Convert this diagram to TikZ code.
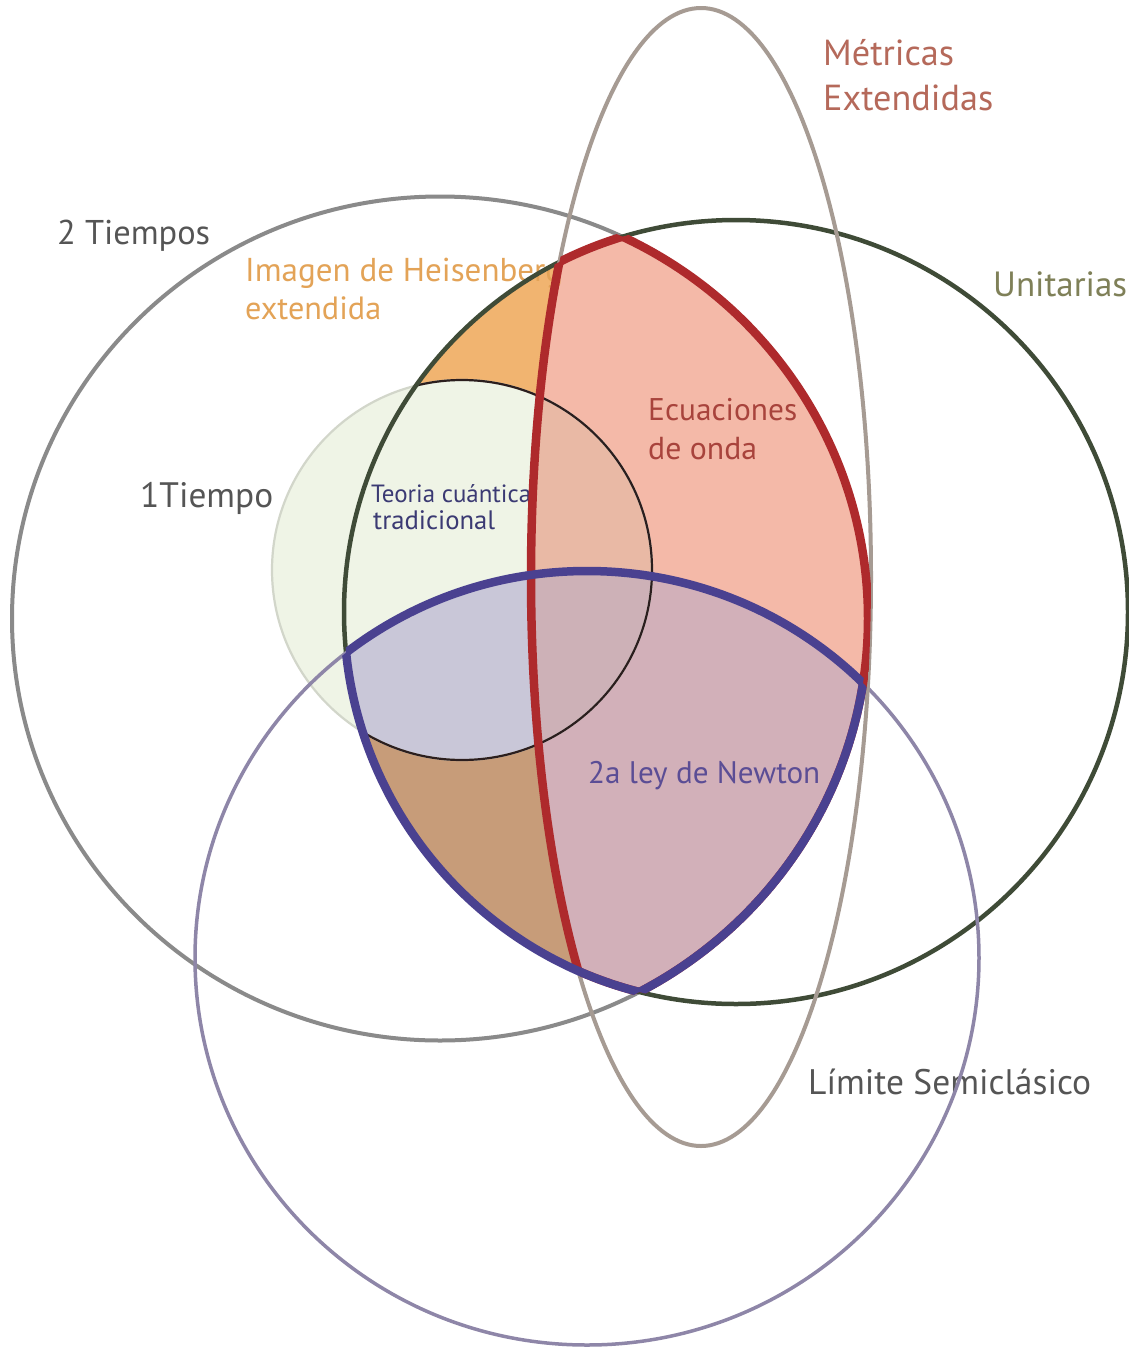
\documentclass[tikz,border=0pt]{standalone}
\usepackage{fontspec}
\setmainfont{PT Sans}
\usepackage{graphicx}
\definecolor{cPale}{HTML}{EFF4E6}
\definecolor{cOrange}{HTML}{F1B470}
\definecolor{cSalmon}{HTML}{F4B9A8}
\definecolor{cSalmonIn}{HTML}{E9B9A5}
\definecolor{cBrown}{HTML}{C79C79}
\definecolor{cLav}{HTML}{C9C7D8}
\definecolor{cMauve}{HTML}{D2B0B9}
\definecolor{cMauveIn}{HTML}{CDB1B7}
\definecolor{lTT}{HTML}{8A8A8A}
\definecolor{lU}{HTML}{3F4B37}
\definecolor{lS}{HTML}{8E86A8}
\definecolor{lE}{HTML}{A69B93}
\definecolor{lPale}{HTML}{D2D6CA}
\definecolor{lBlack}{HTML}{2B1E1E}
\definecolor{lRed}{HTML}{AE2A2C}
\definecolor{lBlue}{HTML}{4A4190}
\definecolor{tMet}{HTML}{B5695A}
\definecolor{tHeis}{HTML}{E3A357}
\definecolor{tUni}{HTML}{7F8058}
\definecolor{tEcu}{HTML}{A8433C}
\definecolor{tNew}{HTML}{5B4D95}
\definecolor{tTeo}{HTML}{3B3A73}
\definecolor{tGray}{HTML}{555555}
\def\pTT{(440,618.5) ellipse (428pt and 422pt)}
\def\pU{(736,612) circle (392pt)}
\def\pS{(587,958) ellipse (392pt and 387pt)}
\def\pOT{(462,570) circle (190pt)}
\def\pE{(701,577) ellipse (170pt and 569pt)}
\newcommand{\lab}[2]{\resizebox{#1pt}{!}{#2}}
\begin{document}
\begin{tikzpicture}[x=1pt,y=-1pt,
  lbl/.style={anchor=base west, inner sep=0pt, font=\fontsize{34}{40}\selectfont},
  smlbl/.style={anchor=base west, inner sep=0pt, font=\fontsize{22}{26}\selectfont}]
\useasboundingbox (0,0) rectangle (1128,1347);
\fill[white] (0,0) rectangle (1128,1347);
% fills
\fill[cPale] \pOT;
\begin{scope}
  \clip \pTT; \clip \pU;
  \fill[cOrange] \pU;
  \fill[cPale] \pOT;
  \begin{scope}
    \clip \pE;
    \fill[cSalmon] \pE;
    \fill[cSalmonIn] \pOT;
  \end{scope}
  \begin{scope}
    \clip \pS;
    \fill[cBrown] \pS;
    \fill[cLav] \pOT;
    \begin{scope}
      \clip \pE;
      \fill[cMauve] \pE;
      \fill[cMauveIn] \pOT;
    \end{scope}
  \end{scope}
\end{scope}
% texts
\node[lbl, text=tMet] (met1) at (823,65) {\lab{131}{Métricas}};
\node[lbl, text=tMet] (met2) at (823,110) {\lab{170}{Extendidas}};
\node[lbl, text=tGray] (tt) at (57,244) {\lab{153}{2 Tiempos}};
\node[lbl, text=tHeis] (heis1) at (245,281) {\lab{318}{Imagen de Heisenberg}};
\node[lbl, text=tHeis] (heis2) at (245,319) {\lab{136}{extendida}};
\node[lbl, text=tUni] (uni) at (993,296) {\lab{134}{Unitarias}};
\node[lbl, text=tEcu] (ecu1) at (648,420) {\lab{149}{Ecuaciones}};
\node[lbl, text=tEcu] (ecu2) at (648,459) {\lab{109}{de onda}};
\node[lbl, text=tGray] (ot) at (140,507) {\lab{133}{1Tiempo}};
\node[smlbl, text=tTeo] (teo1) at (371,502) {\lab{160}{Teoria cuántica}};
\node[smlbl, text=tTeo] (teo2) at (373,529) {\lab{122}{tradicional}};
\node[lbl, text=tNew] (new) at (588,783) {\lab{232}{2a ley de Newton}};
\node[lbl, text=tGray] (lim) at (808,1094) {\lab{283}{Límite Semiclásico}};
% outlines
\draw[lPale, line width=2.2pt] \pOT;
\begin{scope}
  \clip \pU;
  \draw[lBlack, line width=2.2pt] \pOT;
\end{scope}
\draw[lTT, line width=4pt] \pTT;
\draw[lU, line width=4.5pt] \pU;
\draw[lS, line width=3.5pt] \pS;
\draw[lE, line width=4pt] \pE;
% red outline of 2T & U & E
\begin{scope}\clip \pTT; \clip \pU; \draw[lRed, line width=8.5pt] \pE; \end{scope}
\begin{scope}\clip \pTT; \clip \pE; \draw[lRed, line width=8.5pt] \pU; \end{scope}
\begin{scope}\clip \pU; \clip \pE; \draw[lRed, line width=8.5pt] \pTT; \end{scope}
% blue outline of 2T & U & S
\begin{scope}\clip \pTT; \clip \pU; \draw[lBlue, line width=8.5pt] \pS; \end{scope}
\begin{scope}\clip \pTT; \clip \pS; \draw[lBlue, line width=8.5pt] \pU; \end{scope}
\begin{scope}\clip \pU; \clip \pS; \draw[lBlue, line width=8.5pt] \pTT; \end{scope}
\end{tikzpicture}
\end{document}
